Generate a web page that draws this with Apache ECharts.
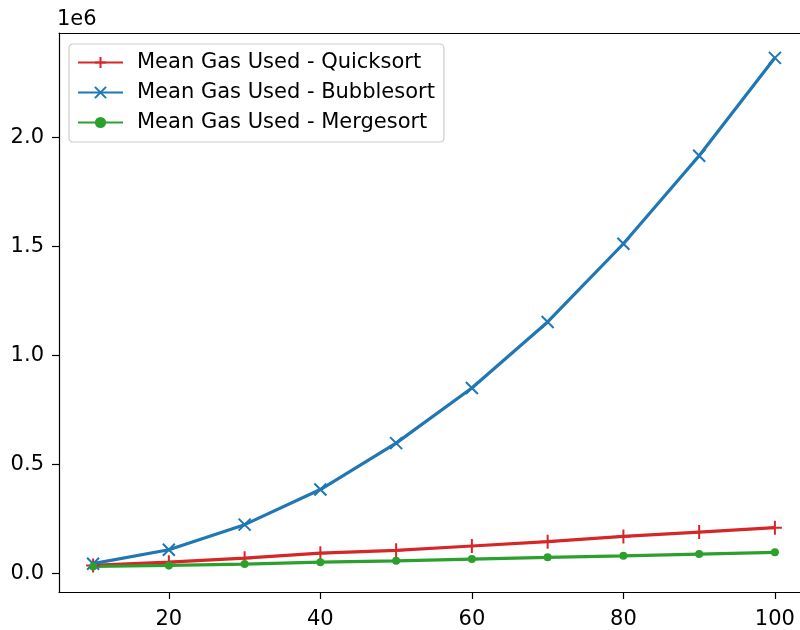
<!DOCTYPE html>
<html>
<head>
<meta charset="utf-8">
<script src="https://cdn.jsdelivr.net/npm/echarts@6/dist/echarts.min.js"></script>
<style>html,body{margin:0;padding:0;background:#fff;overflow:hidden;width:800px;height:630px;}#c{width:809px;height:630px;}</style>
</head>
<body>
<div id="c"></div>
<script>
var sizes = [10, 20, 30, 40, 50, 60, 70, 80, 90, 100];
var quicksort = [37000, 52000, 70000, 93000, 106000, 126000, 146000, 170000, 190000, 210000];
var bubblesort = [45000, 109000, 224000, 385000, 598000, 851000, 1154000, 1513000, 1917000, 2366000];
var mergesort = [32000, 37000, 43000, 52000, 58000, 66000, 74000, 81000, 89000, 97000];
var xTicks = [20, 40, 60, 80, 100];
var yTicks = [0, 500000, 1000000, 1500000, 2000000];
var seriesNames = ['Mean Gas Used - Quicksort', 'Mean Gas Used - Bubblesort', 'Mean Gas Used - Mergesort'];

function pairs(ys) { return sizes.map(function (x, i) { return [x, ys[i]]; }); }

var FONT = 'DejaVu Sans';
var FS = 21;
var chart = echarts.init(document.getElementById('c'), null, {renderer: 'canvas'});
var plusPath = 'path://M0,5L10,5M5,0L5,10';
var xPath = 'path://M0,0L10,10M0,10L10,0';

chart.setOption({
  animation: false,
  backgroundColor: '#ffffff',
  textStyle: {fontFamily: FONT},
  title: {
    text: '1e6', left: 57, top: 9, padding: 0,
    textStyle: {fontFamily: FONT, fontSize: FS, fontWeight: 'normal', color: '#000'}
  },
  grid: {left: 59, right: 0, top: 33, bottom: 38, containLabel: false},
  legend: {
    orient: 'vertical', left: 69, top: 44,
    backgroundColor: 'rgba(255,255,255,0.8)',
    borderColor: '#cccccc', borderWidth: 1.2, borderRadius: 4,
    padding: [8, 9, 9, 8],
    itemWidth: 45, itemHeight: 14, itemGap: 9,
    textStyle: {fontFamily: FONT, fontSize: FS, color: '#000', lineHeight: 21, padding: [0, 0, 0, 9]},
    data: seriesNames
  },
  xAxis: [{
    type: 'value', min: 5.5, max: 104.5,
    axisLine: {show: true, onZero: false, lineStyle: {color: '#000', width: 1.2}},
    axisTick: {show: true, length: 7, lineStyle: {color: '#000', width: 1.2}, customValues: xTicks},
    axisLabel: {color: '#000', fontFamily: FONT, fontSize: FS, margin: 17, customValues: xTicks},
    splitLine: {show: false}
  }, {
    type: 'value', position: 'top', min: 5.5, max: 104.5,
    axisLine: {show: true, onZero: false, lineStyle: {color: '#000', width: 1.2}},
    axisTick: {show: false}, axisLabel: {show: false}, splitLine: {show: false}
  }],
  yAxis: {
    type: 'value', min: -85000, max: 2480000,
    axisLine: {show: true, onZero: false, lineStyle: {color: '#000', width: 1.2}},
    axisTick: {show: true, length: 7, lineStyle: {color: '#000', width: 1.2}, customValues: yTicks},
    axisLabel: {
      color: '#000', fontFamily: FONT, fontSize: FS, margin: 15, customValues: yTicks,
      formatter: function (v) { return (v / 1e6).toFixed(1); }
    },
    splitLine: {show: false}
  },
  series: [{
    name: seriesNames[0], type: 'line', data: pairs(quicksort),
    symbol: plusPath, symbolSize: 14, showAllSymbol: true,
    lineStyle: {color: '#d62728', width: 3.2},
    itemStyle: {color: '#d62728', borderColor: '#d62728', borderWidth: 2}
  }, {
    name: seriesNames[1], type: 'line', data: pairs(bubblesort),
    symbol: xPath, symbolSize: 12, showAllSymbol: true,
    lineStyle: {color: '#1f77b4', width: 3.2},
    itemStyle: {color: '#1f77b4', borderColor: '#1f77b4', borderWidth: 2}
  }, {
    name: seriesNames[2], type: 'line', data: pairs(mergesort),
    symbol: 'circle', symbolSize: 8, showAllSymbol: true,
    lineStyle: {color: '#2ca02c', width: 3.2},
    itemStyle: {color: '#2ca02c', borderWidth: 0}
  }]
});
</script>
</body>
</html>
